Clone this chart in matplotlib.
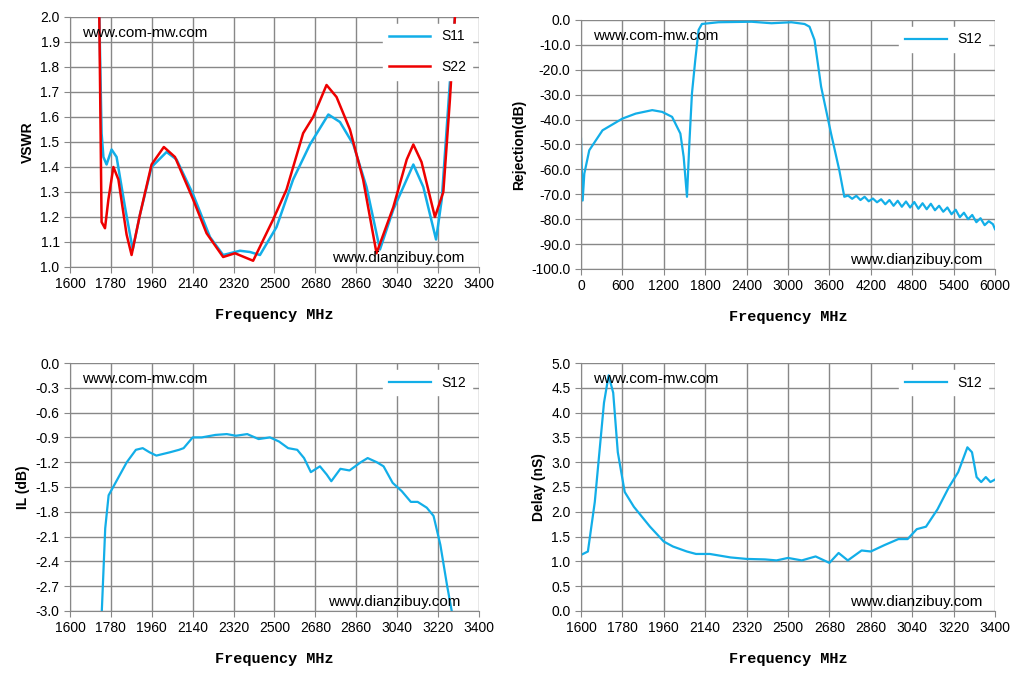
import matplotlib
matplotlib.use("Agg")
import matplotlib.pyplot as plt

# ---- data ----
s11_f = [1729,1739,1747,1761,1783,1805,1842,1876,1908,1959,2025,2069,2142,2216,2274,2348,2392,2436,2509,2582,2656,2737,2788,2847,2905,2964,3023,3111,3155,3211,3236,3272,3294]
s11_v = [2.0,1.535,1.44,1.41,1.47,1.44,1.24,1.07,1.21,1.40,1.46,1.43,1.29,1.12,1.048,1.065,1.06,1.048,1.16,1.35,1.49,1.61,1.58,1.49,1.32,1.07,1.23,1.41,1.32,1.11,1.27,1.74,2.0]
s22_f = [1729,1739,1754,1769,1791,1813,1849,1871,1908,1959,2013,2062,2142,2201,2274,2326,2406,2494,2553,2626,2670,2729,2773,2832,2890,2949,3023,3082,3111,3147,3206,3243,3272,3294]
s22_v = [2.0,1.18,1.155,1.27,1.40,1.35,1.13,1.048,1.21,1.41,1.48,1.44,1.27,1.135,1.04,1.055,1.025,1.19,1.31,1.535,1.60,1.728,1.68,1.55,1.35,1.055,1.24,1.43,1.49,1.42,1.20,1.30,1.67,2.0]

rej_f = [0,24,48,120,312,600,792,1032,1176,1320,1440,1488,1536,1570,1608,1656,1704,1752,1992,2472,2760,3048,3240,3312,3384,3480,3624,3744,3816,
         3870,3930,3990,4050,4110,4170,4230,4290,4350,4410,4470,4530,4590,4650,4710,4770,4830,4890,4950,5010,5070,5130,5190,5250,5310,5370,5430,5490,5550,5610,5670,5730,5790,5850,5910,5970,6000]
rej_v = [-47.7,-72.5,-61.7,-52.3,-44.3,-39.6,-37.6,-36.2,-36.9,-38.9,-45.6,-55,-71,-49.7,-29.5,-16.1,-4,-1.6,-0.9,-0.7,-1.3,-0.9,-1.6,-2.7,-8,-26.8,-45.6,-60.4,-71,
         -70.5,-71.8,-70.6,-72.3,-71.0,-72.8,-71.7,-73.2,-72.0,-74.0,-72.3,-74.6,-72.6,-75.0,-72.9,-75.3,-73.1,-75.8,-73.6,-76.0,-73.8,-76.4,-74.6,-77.0,-75.3,-78.0,-76.2,-79.2,-77.4,-80.0,-78.3,-81.2,-79.6,-82.4,-80.8,-82.0,-84.0]

il_f = [1740,1755,1770,1800,1850,1890,1920,1950,1980,2040,2080,2100,2140,2180,2240,2290,2330,2380,2430,2480,2520,2560,2600,2630,2660,2700,2730,2750,2790,2830,2880,2910,2950,2980,3020,3060,3100,3130,3170,3200,3230,3260,3280]
il_v = [-3.0,-2.0,-1.6,-1.45,-1.2,-1.05,-1.03,-1.08,-1.12,-1.08,-1.05,-1.03,-0.9,-0.9,-0.87,-0.86,-0.88,-0.86,-0.92,-0.9,-0.95,-1.03,-1.05,-1.15,-1.32,-1.25,-1.35,-1.43,-1.28,-1.3,-1.2,-1.15,-1.2,-1.25,-1.45,-1.55,-1.68,-1.68,-1.75,-1.85,-2.2,-2.7,-3.0]

dl_f = [1600,1630,1660,1700,1720,1740,1760,1790,1830,1900,1960,2000,2060,2100,2160,2250,2320,2400,2450,2500,2560,2620,2680,2720,2760,2820,2860,2920,2980,3020,3060,3100,3150,3200,3240,3280,3300,3320,3340,3360,3380,3400]
dl_v = [1.13,1.2,2.2,4.2,4.75,4.4,3.2,2.4,2.1,1.7,1.4,1.3,1.2,1.15,1.15,1.08,1.05,1.04,1.02,1.07,1.02,1.1,0.97,1.17,1.02,1.22,1.2,1.33,1.45,1.45,1.65,1.7,2.05,2.5,2.8,3.3,3.2,2.7,2.6,2.7,2.6,2.65]

band_ticks = list(range(1600, 3401, 180))
BLUE = "#12AEE8"
RED = "#EE0000"

fig = plt.figure(figsize=(10.2, 6.79), dpi=100)
W, H = 1020, 679
def ax_at(x0, y0, x1, y1):
    return fig.add_axes([x0 / W, 1 - y1 / H, (x1 - x0) / W, (y1 - y0) / H])

tickfont = dict(family="Liberation Sans", size=10)
lblfont = dict(family="Liberation Mono", weight="bold", size=11)

def style(ax, xlim, xt, ylim, yt, yfmt, ylabel):
    ax.set_xlim(*xlim); ax.set_ylim(*ylim)
    ax.set_xticks(xt); ax.set_yticks(yt)
    ax.set_xticklabels([str(t) for t in xt], **tickfont)
    ax.set_yticklabels([yfmt.format(t) for t in yt], **tickfont)
    ax.grid(True, color="#888888", lw=1)
    ax.set_axisbelow(True)
    for s in ["top", "right"]:
        ax.spines[s].set_visible(False)
    for s in ["left", "bottom"]:
        ax.spines[s].set_color("#888888")
    ax.tick_params(colors="#888888", labelcolor="black", length=4)
    ax.set_xlabel("Frequency MHz", labelpad=12, **lblfont)
    ax.set_ylabel(ylabel, family="Liberation Sans", weight="bold", size=10)

def marks(ax, x1, y1, x2, y2):
    ax.text(x1, y1, "www.com-mw.com", transform=ax.transAxes, fontsize=11, family="Liberation Sans")
    ax.text(x2, y2, "www.dianzibuy.com", transform=ax.transAxes, fontsize=11, family="Liberation Sans")

def legend(ax, labels_n=1):
    leg = ax.legend(loc="upper right", frameon=True, fontsize=10, handlelength=3,
                    labelspacing=1.2 if labels_n > 1 else 0.5, prop=dict(family="Liberation Sans", size=10))
    leg.get_frame().set_edgecolor("white")
    leg.get_frame().set_alpha(1)

# Top-left VSWR
a1 = ax_at(70, 17, 479, 267)
a1.plot(s11_f, s11_v, color=BLUE, lw=1.8, label="S11")
a1.plot(s22_f, s22_v, color=RED, lw=1.8, label="S22")
style(a1, (1600, 3400), band_ticks, (1.0, 2.0), [1.0 + 0.1 * i for i in range(11)], "{:.1f}", "VSWR")
legend(a1, 2)
marks(a1, 0.03, 0.92, 0.64, 0.02)

# Top-right Rejection
a2 = ax_at(581, 20, 995, 269)
a2.plot(rej_f, rej_v, color=BLUE, lw=1.6, label="S12")
style(a2, (0, 6000), list(range(0, 6001, 600)), (-100, 0), list(range(-100, 1, 10)), "{:.1f}", "Rejection(dB)")
legend(a2)
marks(a2, 0.03, 0.92, 0.65, 0.02)

# Bottom-left IL
a3 = ax_at(70, 363, 479, 611)
a3.plot(il_f, il_v, color=BLUE, lw=1.6, label="S12")
style(a3, (1600, 3400), band_ticks, (-3.0, 0.0), [-3.0 + 0.3 * i for i in range(11)], "{:.1f}", "IL (dB)")
legend(a3)
marks(a3, 0.03, 0.92, 0.63, 0.02)

# Bottom-right Delay
a4 = ax_at(581, 363, 995, 611)
a4.plot(dl_f, dl_v, color=BLUE, lw=1.6, label="S12")
style(a4, (1600, 3400), band_ticks, (0.0, 5.0), [0.5 * i for i in range(11)], "{:.1f}", "Delay (nS)")
legend(a4)
marks(a4, 0.03, 0.92, 0.65, 0.02)

fig.savefig("out.png", dpi=100, facecolor="white")
